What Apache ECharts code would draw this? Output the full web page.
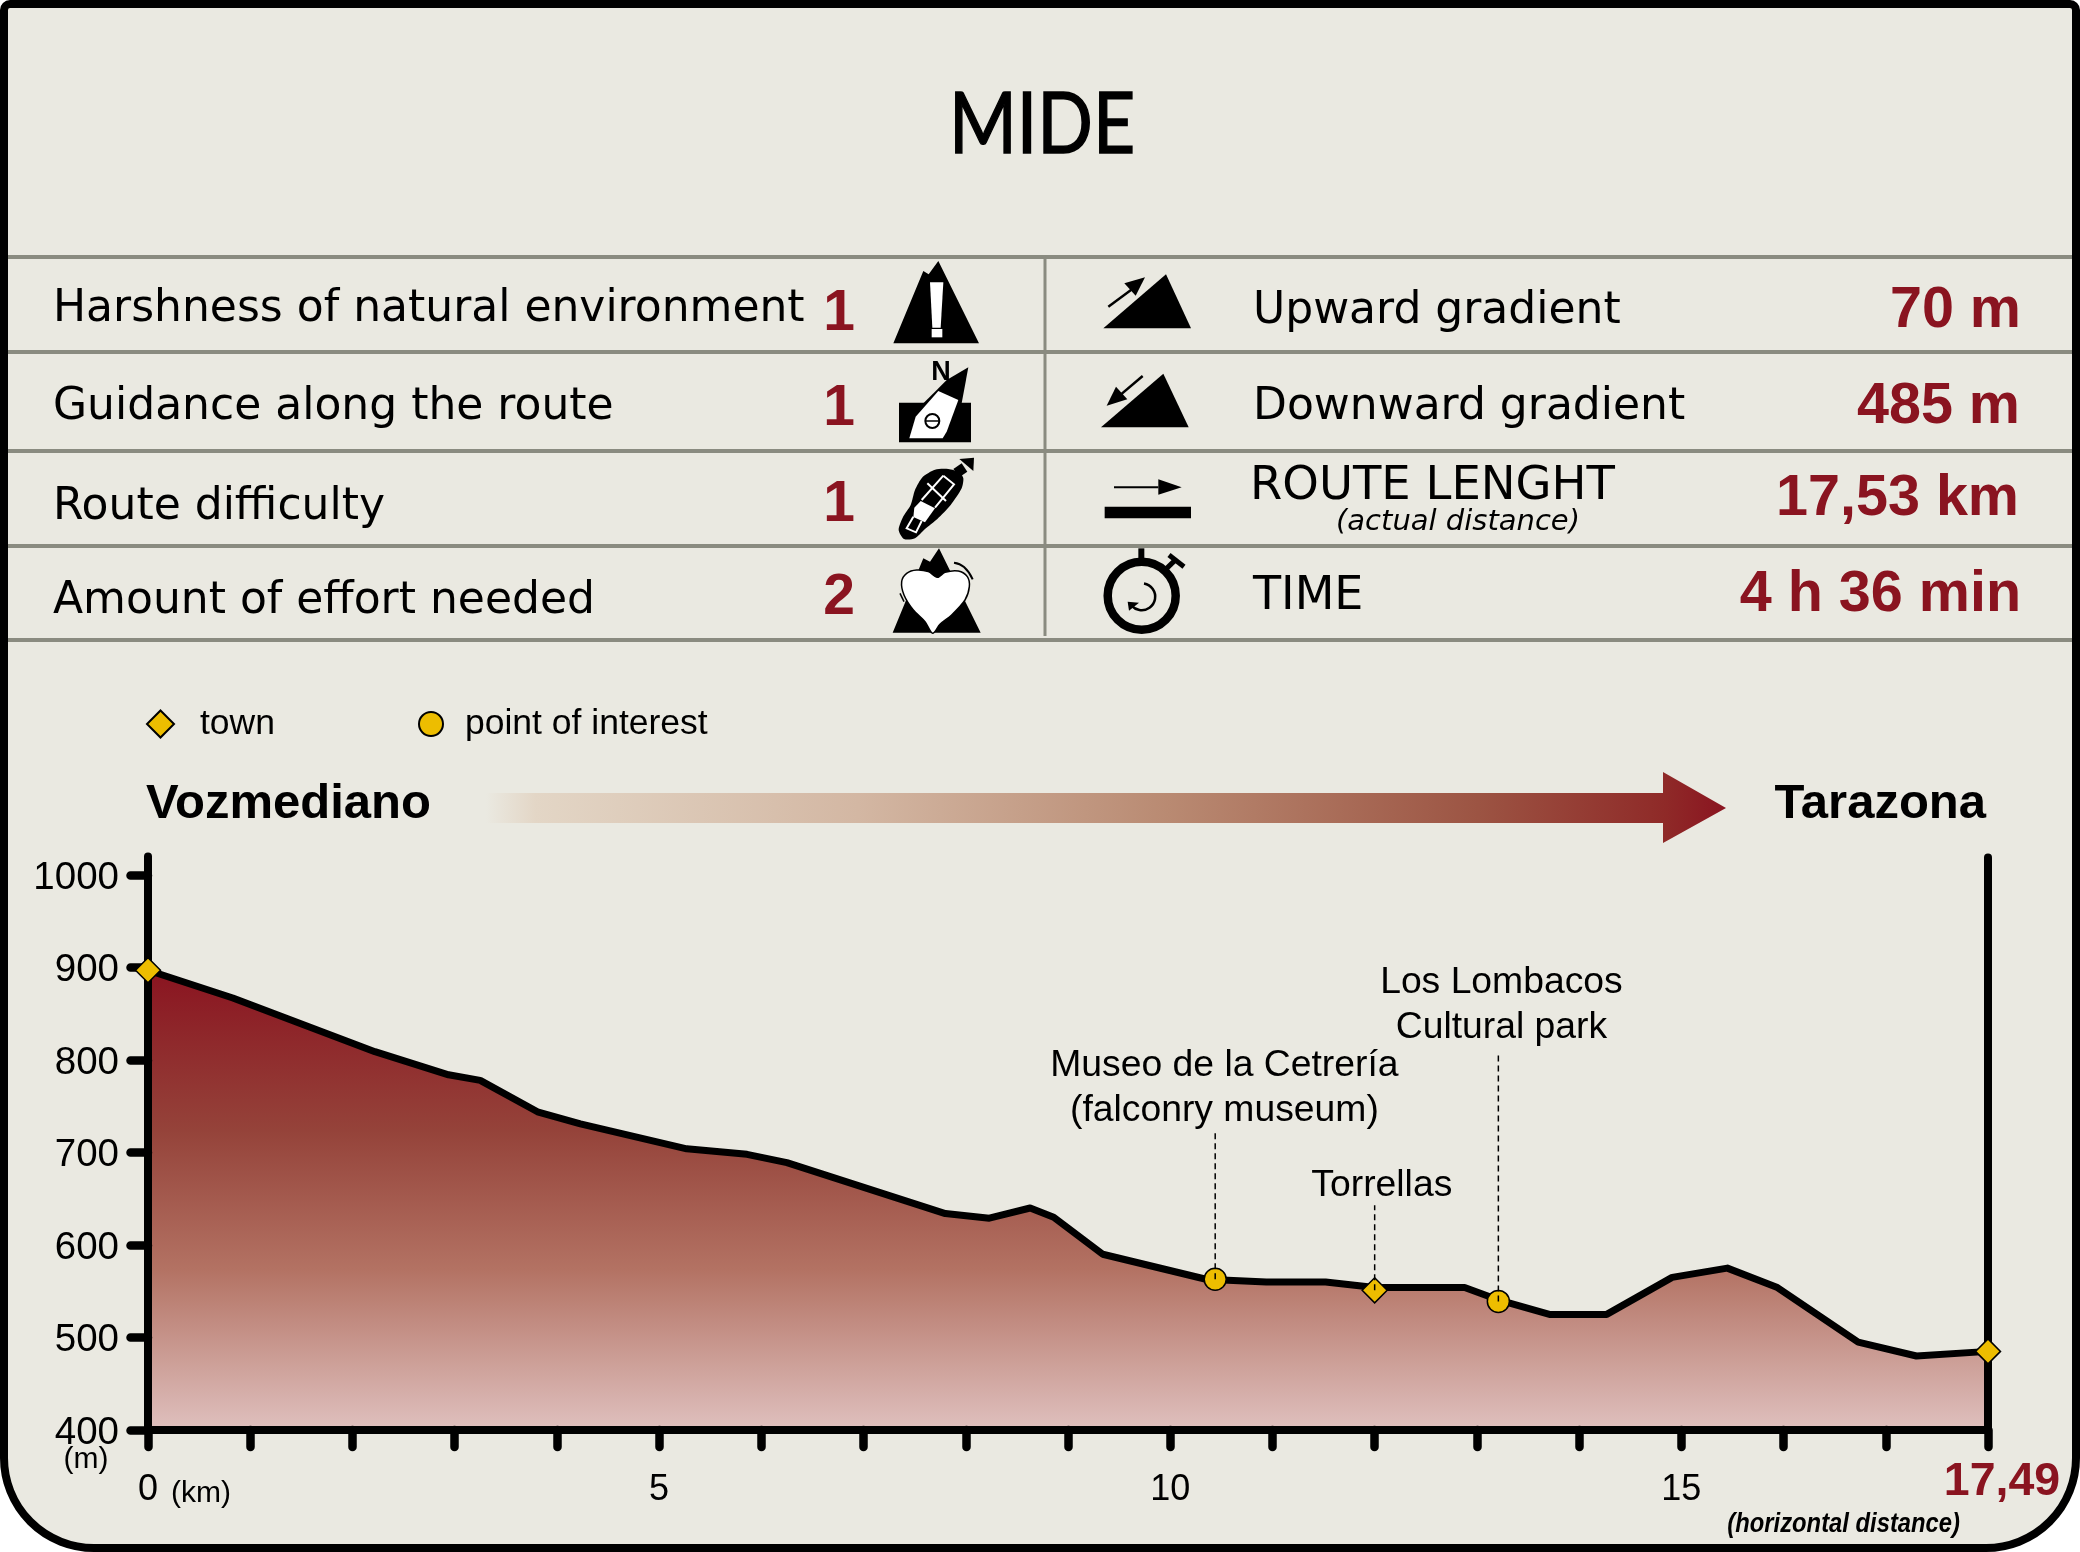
<!DOCTYPE html>
<html>
<head>
    <meta charset="utf-8">
    <title>MIDE</title>
    <script src="https://cdn.jsdelivr.net/npm/echarts@6/dist/echarts.min.js"></script>
    <style>
        html, body { margin: 0; padding: 0; background: #fff; }
        #main { width: 2080px; height: 1552px; }
    </style>
</head>
<body>
<div id="main"></div>
<script type="text/javascript">
    // elevation profile
    var km = [0, 0.83, 2.22, 2.94, 3.25, 3.81, 4.23, 5.27, 5.86, 6.25, 7.8, 8.23, 8.63, 8.86, 9.34, 10.35, 10.94, 11.52, 12, 12.88, 13.2, 13.71, 14.27, 14.91, 15.45, 15.94, 16.73, 17.3, 18]
    var elev = [897, 867, 809, 784, 778, 744, 731, 704, 698, 689, 634, 629, 640, 630, 590, 563, 560, 560, 554, 554, 541, 525, 525, 565, 575, 554, 495, 480, 485]

    var yTicks = [400, 500, 600, 700, 800, 900, 1000]
    var xTicks = [0, 5, 10, 15]
    var xEndLabel = '17,49'

    // markers
    var townKm = [0, 12, 18]
    var townElev = [897, 551, 485]
    var poiKm = [10.44, 13.21]
    var poiElev = [563, 539]

    // dashed leaders and their captions
    var leaderKm = [10.44, 12, 13.21]
    var leaderFrom = [563, 551, 539]
    var leaderTo = [722, 643, 805]
    var captionKm = [10.53, 12.07, 13.24]
    var captionElev = [770, 664, 859]
    var captions = ['Museo de la Cetrería\n(falconry museum)', 'Torrellas', 'Los Lombacos\nCultural park']

    // MIDE table
    var leftRows = ['Harshness of natural environment', 'Guidance along the route', 'Route difficulty', 'Amount of effort needed']
    var leftScores = ['1', '1', '1', '2']
    var rightRows = ['Upward gradient', 'Downward gradient', 'ROUTE LENGHT', 'TIME']
    var rightValues = ['70 m', '485 m', '17,53 km', '4 h 36 min']

    var BG = '#EAE9E1', RED = '#8A1420', RULE = '#8A8B80', GOLD = '#EDBD00'
    var SANS = '"DejaVu Sans"', ARIAL = '"Liberation Sans"'

    function label(x, base, text, font, size, align, fill, extra) {
        var o = {
            type: 'text', z: 5,
            x: x, y: base - size * 0.27,
            style: {
                x: 0, y: 0, text: text, font: font, fill: fill || '#000',
                align: align || 'left', textAlign: align || 'left', verticalAlign: 'middle', textVerticalAlign: 'middle'
            }
        }
        if (extra && extra.scaleX) o.scaleX = extra.scaleX
        if (extra && extra.bolder) { o.style.stroke = '#000'; o.style.lineWidth = extra.bolder }
        return o
    }

    function z3(ox, oy, pts) {
        return pts.map(function (p) { return [ox + p[0] / 3, oy + p[1] / 3] })
    }
    function poly(ox, oy, pts, fill, smooth, line) {
        var st = { fill: fill || '#000' }
        if (line) { st.stroke = '#000'; st.lineWidth = line }
        return { type: 'polygon', z: 4, shape: { points: z3(ox, oy, pts), smooth: smooth || 0 }, style: st }
    }
    function stroke(ox, oy, pts, width, color, smooth) {
        return { type: 'polyline', z: 4, shape: { points: z3(ox, oy, pts), smooth: smooth || 0 }, style: { stroke: color || '#000', lineWidth: width, fill: null } }
    }
    function rule(x1, y1, x2, y2, w) {
        return { type: 'line', z: 3, shape: { x1: x1, y1: y1, x2: x2, y2: y2 }, style: { stroke: RULE, lineWidth: w } }
    }

    var g = []

    // card
    g.push({ type: 'rect', z: -10, shape: { x: 4, y: 4, width: 2072, height: 1544, r: [6, 6, 90, 90] }, style: { fill: BG, stroke: '#000', lineWidth: 8 } })
    g.push(label(949, 148.6, 'MIDE', '85px Lato', 85, 'left', '#000', { scaleX: 0.86, bolder: 1.5 }))

    // table rules
    ;[257, 352, 451, 546, 640].forEach(function (y) { g.push(rule(8, y, 2072, y, 4)) })
    g.push(rule(1045, 257, 1045, 636, 3))

    var leftBase = [321, 419, 519, 613]
    var scoreBase = [330, 425, 521, 614]
    var rightBase = [323, 419, 499, 609]
    var rightSize = [44, 44, 46.5, 46]
    var valueBase = [327, 423, 515, 611]
    var valueRight = [2021, 2020, 2019, 2021]
    for (var i = 0; i < 4; i++) {
        g.push(label(53, leftBase[i], leftRows[i], '44px ' + SANS, 44))
        g.push(label(839, scoreBase[i], leftScores[i], 'bold 57px ' + ARIAL, 57, 'center', RED))
        g.push(label(i == 2 ? 1250 : 1253, rightBase[i], rightRows[i], rightSize[i] + 'px ' + SANS, rightSize[i]))
        g.push(label(valueRight[i], valueBase[i], rightValues[i], 'bold 57.5px ' + ARIAL, 57.5, 'right', RED))
    }
    g.push(label(1458, 530.5, '(actual distance)', 'italic 29px ' + SANS, 29, 'center'))

    // harshness icon
    g.push(poly(880, 255, [[175, 18], [297, 265], [40, 265], [130, 48], [146, 58]]))
    g.push(poly(880, 255, [[150, 82], [190, 82], [182, 218], [157, 218]], '#fff'))
    g.push(poly(880, 255, [[155, 222], [187, 222], [187, 247], [155, 247]], '#fff'))
    // guidance icon
    g.push(label(941, 380, 'N', 'bold 27px ' + ARIAL, 27, 'center'))
    g.push(poly(880, 255, [[57, 443], [273, 443], [273, 562], [57, 562]]))
    g.push(poly(880, 255, [[265, 337], [245, 445], [130, 445], [165, 410], [200, 375]]))
    g.push(poly(880, 255, [[88, 550], [107, 485], [175, 408], [235, 435], [200, 530], [188, 550]], '#fff'))
    g.push({ type: 'circle', z: 4, shape: { cx: 880 + 157 / 3, cy: 255 + 498 / 3, r: 7 }, style: { fill: '#fff', stroke: '#000', lineWidth: 2 } })
    g.push(stroke(880, 255, [[136, 498], [178, 498]], 1.5))
    // route difficulty icon
    g.push(poly(880, 445, [[238, 82], [205, 72], [165, 74], [128, 96], [105, 135], [92, 180], [68, 218], [56, 255], [72, 282], [105, 280], [135, 252], [172, 222], [212, 180], [245, 130], [250, 100]], '#000', 0.25))
    g.push(poly(880, 445, [[103, 188], [122, 168], [165, 190], [135, 232], [100, 216]], '#fff'))
    g.push(stroke(880, 445, [[142, 115], [198, 168]], 2, '#fff'))
    g.push(stroke(880, 445, [[190, 92], [222, 118], [165, 188]], 2, '#fff'))
    g.push(stroke(880, 445, [[190, 92], [125, 165]], 2, '#fff'))
    g.push(stroke(880, 445, [[100, 215], [80, 250], [108, 262], [125, 228]], 2, '#fff'))
    g.push(poly(880, 445, [[220, 72], [245, 55], [262, 80], [240, 95]]))
    g.push(poly(880, 445, [[238, 42], [282, 38], [280, 78]]))
    // effort icon
    g.push(poly(880, 445, [[177, 310], [302, 563], [38, 563], [130, 340], [150, 350]]))
    g.push(poly(880, 445, [[172, 397], [195, 382], [235, 378], [262, 395], [268, 425], [255, 465], [215, 510], [180, 538], [158, 565], [135, 530], [100, 495], [72, 450], [65, 410], [80, 385], [110, 375], [145, 380]], '#fff', 0.3, 1.5))
    g.push(stroke(880, 445, [[222, 353], [252, 366], [278, 403]], 2, '#000', 0.5))
    g.push(stroke(880, 445, [[60, 445], [72, 470]], 1.5))
    // gradient icons
    g.push(poly(1090, 260, [[228, 43], [303, 205], [40, 205]]))
    g.push(stroke(1090, 260, [[55, 140], [130, 85]], 2.5))
    g.push(poly(1090, 260, [[165, 52], [103, 70], [137, 107]]))
    g.push(poly(1090, 260, [[220, 341], [296, 502], [33, 502]]))
    g.push(stroke(1090, 260, [[158, 348], [85, 410]], 2.5))
    g.push(poly(1090, 260, [[50, 437], [78, 380], [112, 418]]))
    // length icon
    g.push(stroke(1090, 450, [[72, 112], [205, 112]], 2))
    g.push(poly(1090, 450, [[205, 88], [275, 112], [205, 134]]))
    g.push(poly(1090, 450, [[44, 170], [303, 170], [303, 205], [44, 205]]))
    // time icon
    g.push({ type: 'circle', z: 4, shape: { cx: 1141.7, cy: 595.7, r: 34 }, style: { fill: null, stroke: '#000', lineWidth: 8.5 } })
    g.push(stroke(1090, 450, [[154, 295], [154, 330]], 6))
    g.push(stroke(1090, 450, [[230, 355], [258, 328]], 5))
    g.push(stroke(1090, 450, [[237, 315], [282, 350]], 5))
    g.push({ type: 'arc', z: 4, shape: { cx: 1141.7, cy: 596.7, r: 13.5, startAngle: -1.4, endAngle: 2.4, clockwise: true }, style: { fill: null, stroke: '#000', lineWidth: 2.5 } })
    g.push(poly(1090, 450, [[113, 455], [147, 458], [117, 482]]))

    // direction strip
    g.push(label(146, 818, 'Vozmediano', 'bold 49px ' + ARIAL, 49))
    g.push(label(1986, 818, 'Tarazona', 'bold 49px ' + ARIAL, 49, 'right'))
    g.push({
        type: 'polygon', z: 3,
        shape: { points: [[486, 793], [1663, 793], [1663, 772], [1726, 808], [1663, 843], [1663, 823], [486, 823]] },
        style: {
            fill: new echarts.graphic.LinearGradient(0, 0, 1, 0, [
                { offset: 0, color: BG },
                { offset: 0.04, color: '#E3D6C6' },
                { offset: 0.3, color: '#D3B7A3' },
                { offset: 0.55, color: '#B98A72' },
                { offset: 0.8, color: '#9C5443' },
                { offset: 0.95, color: '#8F2A28' },
                { offset: 1, color: RED }
            ])
        }
    })

    // axis captions
    g.push(label(86, 1468, '(m)', '30px ' + ARIAL, 30, 'center'))
    g.push(label(171, 1502, '(km)', '30px ' + ARIAL, 30))
    g.push(label(2002, 1495, xEndLabel, 'bold 46.5px ' + ARIAL, 46.5, 'center', RED))
    g.push(label(1960, 1532, '(horizontal distance)', 'italic bold 28px ' + ARIAL, 28, 'right', '#000', { scaleX: 0.85 }))

    var series = [{
        name: 'profile',
        type: 'line',
        symbol: 'none',
        z: 3,
        data: km.map(function (k, i) { return [k, elev[i]] }),
        lineStyle: { color: '#000', width: 7, join: 'round' },
        areaStyle: {
            origin: 'start',
            opacity: 1,
            color: new echarts.graphic.LinearGradient(0, 0, 0, 1, [
                { offset: 0, color: RED },
                { offset: 0.35, color: '#95433A' },
                { offset: 0.65, color: '#B37263' },
                { offset: 1, color: '#DFC0BE' }
            ])
        }
    }, {
        name: 'end',
        type: 'line',
        symbol: 'none',
        z: 11,
        clip: false,
        data: [[18, 400], [18, 1019]],
        lineStyle: { color: '#000', width: 8, cap: 'round' }
    }, {
        name: 'town',
        type: 'scatter',
        symbol: 'diamond',
        symbolSize: 25,
        z: 12,
        clip: false,
        data: townKm.map(function (k, i) { return [k, townElev[i]] }),
        itemStyle: { color: GOLD, borderColor: '#000', borderWidth: 1.5, opacity: 1 }
    }, {
        name: 'point of interest',
        type: 'scatter',
        symbol: 'circle',
        symbolSize: 22,
        z: 12,
        clip: false,
        data: poiKm.map(function (k, i) { return [k, poiElev[i]] }),
        itemStyle: { color: GOLD, borderColor: '#000', borderWidth: 1.5, opacity: 1 }
    }, {
        name: 'captions',
        type: 'scatter',
        symbol: 'circle',
        symbolSize: 1,
        z: 12,
        itemStyle: { color: 'transparent', opacity: 1 },
        data: captions.map(function (c, i) { return { value: [captionKm[i], captionElev[i]], label: { formatter: c } } }),
        label: { show: true, position: 'inside', fontFamily: ARIAL, fontSize: 37.3, lineHeight: 45, color: '#000', opacity: 1, align: 'center', verticalAlign: 'middle' }
    }]
    leaderKm.forEach(function (k, i) {
        series.push({
            name: 'leader' + i,
            type: 'line',
            symbol: 'none',
            z: 13,
            data: [[k, leaderFrom[i]], [k, leaderTo[i]]],
            lineStyle: { color: '#000', width: 1.5, type: [6, 4] }
        })
    })

    var legendText = { fontFamily: ARIAL, fontSize: 35.5, color: '#000' }

    var myChart = echarts.init(document.getElementById('main'))
    myChart.setOption({
        animation: false,
        legend: [{
            left: 141, top: 701,
            data: ['town'],
            itemWidth: 27, itemHeight: 27,
            textStyle: Object.assign({ padding: [0, 0, 0, 21] }, legendText)
        }, {
            left: 413, top: 701,
            data: ['point of interest'],
            itemWidth: 24, itemHeight: 24,
            textStyle: Object.assign({ padding: [0, 0, 0, 17] }, legendText)
        }],
        grid: { left: 148, right: 92, top: 856.5, bottom: 122 },
        xAxis: {
            type: 'value', min: 0, max: 18, interval: 1, z: 10,
            splitLine: { show: false },
            axisLine: { onZero: false, lineStyle: { color: '#000', width: 8 } },
            axisTick: { length: 17, lineStyle: { color: '#000', width: 8.5, cap: 'round' } },
            axisLabel: { customValues: xTicks, margin: 42, fontFamily: ARIAL, fontSize: 36, color: '#000' }
        },
        yAxis: {
            type: 'value', min: 400, max: 1020, interval: 100, z: 10,
            splitLine: { show: false },
            axisLine: { onZero: false, show: true, lineStyle: { color: '#000', width: 8, cap: 'round' } },
            axisTick: { show: true, customValues: yTicks, length: 17.5, lineStyle: { color: '#000', width: 8.5, cap: 'round' } },
            axisLabel: {
                customValues: yTicks, margin: 29, color: '#000',
                formatter: function (v) { return '{v|' + v + '}' },
                rich: { v: { fontFamily: ARIAL, fontSize: 38.5, color: '#000', padding: [6, 0, 0, 0] } }
            }
        },
        graphic: g,
        series: series
    })
</script>
</body>
</html>
